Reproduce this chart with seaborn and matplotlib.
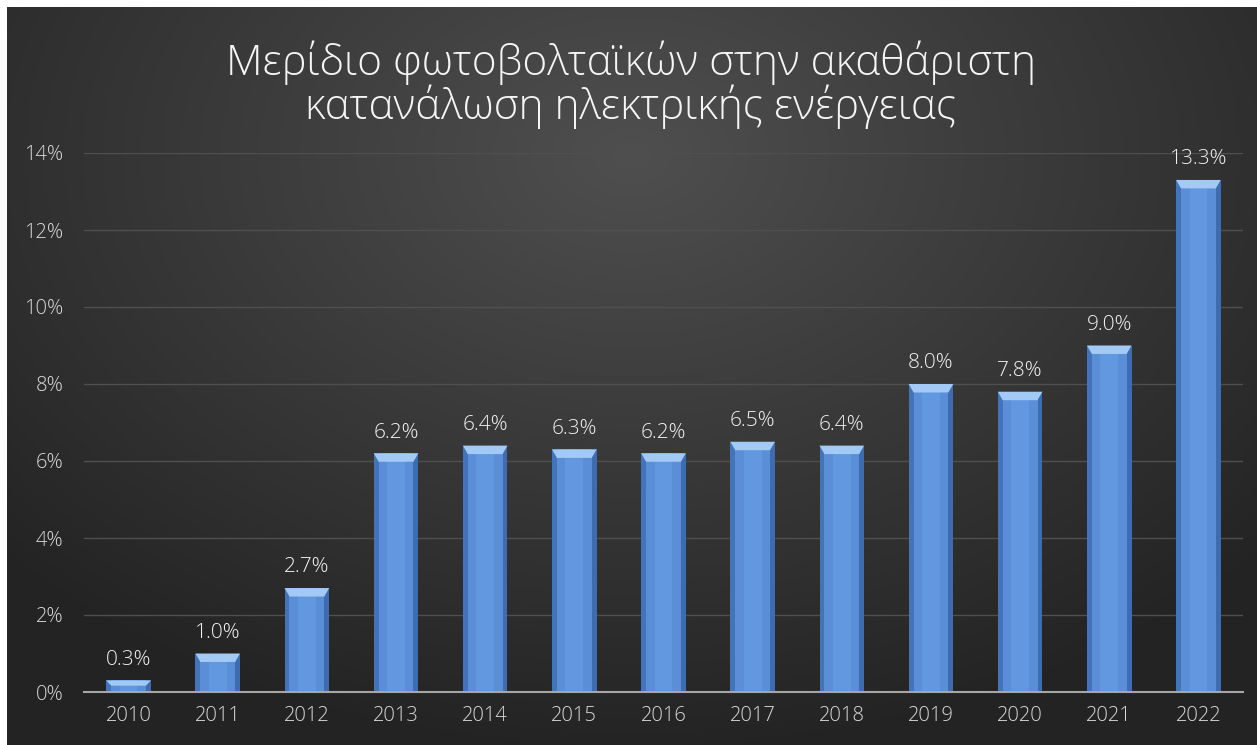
import numpy as np
import pandas as pd
import matplotlib
matplotlib.use("Agg")
import matplotlib.pyplot as plt
from matplotlib.patches import Polygon, Rectangle
import seaborn as sns

years = ["2010", "2011", "2012", "2013", "2014", "2015", "2016",
         "2017", "2018", "2019", "2020", "2021", "2022"]
share = [0.3, 1.0, 2.7, 6.2, 6.4, 6.3, 6.2, 6.5, 6.4, 8.0, 7.8, 9.0, 13.3]
y_ticks = [0, 2, 4, 6, 8, 10, 12, 14]
title = "Μερίδιο φωτοβολταϊκών στην ακαθάριστη\nκατανάλωση ηλεκτρικής ενέργειας"

df = pd.DataFrame({"year": years, "share": share})

sns.set_style("dark")
plt.rcParams["font.family"] = ["Open Sans", "DejaVu Sans"]
plt.rcParams["font.weight"] = "light"

fig = plt.figure(figsize=(12.57, 7.45), dpi=100, facecolor="white")

# dark radial background (image was cropped with a thin white strip top/left)
bg = fig.add_axes([7 / 1257, 0, 1 - 7 / 1257, 1 - 7 / 745])
gx, gy = np.meshgrid(np.linspace(0, 1, 400), np.linspace(0, 1, 250))
dist = np.sqrt(((gx - 0.5) / 0.8) ** 2 + ((gy - 0.2) / 0.95) ** 2)
shade = np.clip(0.31 - 0.2 * dist, 0.14, 0.31)
bg.imshow(np.dstack([shade, shade, shade]), aspect="auto", extent=[0, 1, 1, 0])
bg.set_axis_off()

ax = fig.add_axes([84 / 1257, 1 - 692 / 745, (1243 - 84) / 1257, (692 - 153) / 745])
ax.set_facecolor("none")

sns.barplot(data=df, x="year", y="share", color="#5a8fd8", width=0.5,
            saturation=1, linewidth=0, edgecolor="none", ax=ax, zorder=3)

ax.set_ylim(0, 14)
ax.set_xlim(-0.5, len(years) - 0.5)
ax.set_yticks(y_ticks)
ax.set_yticklabels([f"{t}%" for t in y_ticks])
ax.set_xlabel("")
ax.set_ylabel("")
ax.grid(axis="y", color="#4f4f4f", linewidth=1, zorder=0)
ax.grid(axis="x", visible=False)
for s in ["top", "right", "left"]:
    ax.spines[s].set_visible(False)
ax.spines["bottom"].set_color("#a6a6a6")
ax.spines["bottom"].set_linewidth(1.5)
ax.spines["bottom"].set_zorder(5)
ax.tick_params(axis="both", length=0, labelsize=14.5, colors="#d9d9d9")
ax.tick_params(axis="x", pad=10)
ax.tick_params(axis="y", pad=15)

# bevel look on each bar
bx = 0.055
by = 0.22
for p, v in zip(ax.patches, share):
    x0 = p.get_x()
    w = p.get_width()
    h = p.get_height()
    bh = min(by, h * 0.45)
    ax.add_patch(Rectangle((x0, 0), bx, h, color="#4273bb", zorder=4, lw=0))
    ax.add_patch(Rectangle((x0 + w - bx, 0), bx, h, color="#3e6cb0", zorder=4, lw=0))
    ax.add_patch(Rectangle((x0 + w * 0.3, 0), w * 0.4, h, color="#6198e0", zorder=3.5, lw=0))
    ax.add_patch(Polygon([(x0, h), (x0 + w, h), (x0 + w - bx, h - bh), (x0 + bx, h - bh)],
                         closed=True, color="#a3c9f5", zorder=4.5, lw=0))
    ax.text(x0 + w / 2, h + 0.28, f"{v:.1f}%", ha="center", va="bottom",
            fontsize=15, color="#f2f2f2", zorder=6)

fig.text(0.502, 0.886, title, ha="center", va="center", fontsize=30.5,
         color="#f5f5f5", linespacing=1.0, fontweight="light")

fig.savefig("out.png", dpi=100, facecolor="white")
